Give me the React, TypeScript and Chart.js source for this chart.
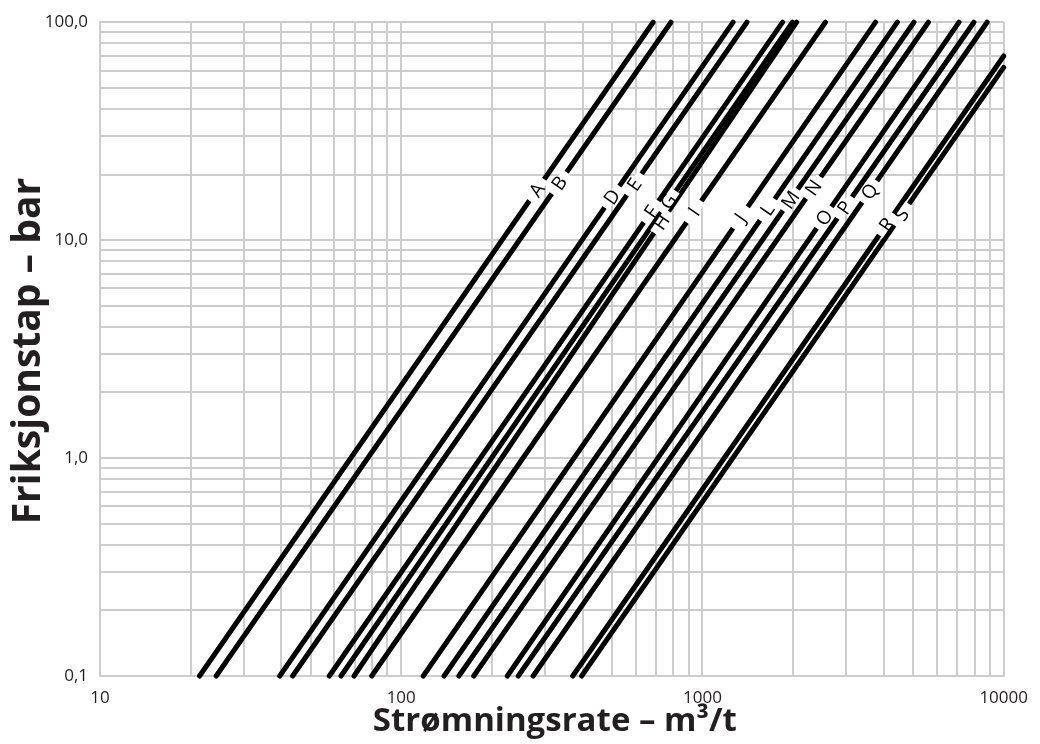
import React, { useEffect, useRef } from "react";
import { Chart, registerables } from "chart.js";

Chart.register(...registerables);

// ---- Data ----
const seriesNames = ["A", "B", "D", "E", "F", "G", "H", "I", "J", "L", "M", "N", "O", "P", "Q", "R", "S"];
// flow (m³/t) where each curve starts at the bottom of the chart
const startFlow = [21.4, 24.3, 39.5, 43.6, 57.7, 63.1, 69.7, 79.8, 118.3, 138.7, 155.4, 174.0, 225.0, 244.6, 274.0, 370.9, 397.1];
const startLoss = [0.1, 0.1, 0.1, 0.1, 0.1, 0.1, 0.1, 0.1, 0.1, 0.1, 0.1, 0.1, 0.1, 0.1, 0.1, 0.1, 0.1];
// flow (m³/t) and loss (bar) where each curve ends
const endFlow = [686, 786, 1264, 1405, 1845, 1990, 2055, 2560, 3756, 4437, 5035, 5624, 7108, 7963, 8812, 10000, 10000];
const endLoss = [100, 100, 100, 100, 100, 100, 100, 100, 100, 100, 100, 100, 100, 100, 100, 70, 62];
// friction loss (bar) at which each curve's letter sits
const labelLoss = [17.0, 18.3, 15.8, 18.0, 13.5, 15.0, 12.1, 13.5, 12.7, 13.8, 15.3, 17.4, 12.7, 14.1, 16.7, 11.8, 13.1];

const xMin = 10;
const xMax = 10000;
const yMin = 0.1;
const yMax = 100;
const xTickValues = [10, 100, 1000, 10000];
const xTickLabels = ["10", "100", "1000", "10000"];
const yTickValues = [0.1, 1, 10, 100];
const yTickLabels = ["0,1", "1,0", "10,0", "100,0"];

const xTitle = "Strømningsrate – m³/t";
const yTitle = "Friksjonstap – bar";

// ---- helpers ----
function logGrid(lo: number, hi: number): number[] {
  const out: number[] = [];
  const e0 = Math.round(Math.log10(lo));
  const e1 = Math.round(Math.log10(hi));
  for (let e = e0; e < e1; e++) {
    const base = Math.pow(10, e);
    for (let m = 1; m < 10; m++) out.push(parseFloat((m * base).toPrecision(6)));
  }
  out.push(hi);
  return out;
}

function labelFor(v: number, values: number[], labels: string[]): string {
  for (let i = 0; i < values.length; i++) {
    if (Math.abs(Math.log10(v) - Math.log10(values[i])) < 1e-6) return labels[i];
  }
  return "";
}

const GRID = "#cdcdcd";
const INK = "#231f20";
const FONT = "'Open Sans', 'Noto Sans', sans-serif";

export default function App() {
  const ref = useRef<HTMLCanvasElement>(null);

  useEffect(() => {
    const canvas = ref.current;
    if (!canvas) return;

    const datasets = seriesNames.map((name, i) => ({
      label: name,
      data: [
        { x: startFlow[i], y: startLoss[i] },
        { x: endFlow[i], y: endLoss[i] },
      ],
      showLine: true,
      borderColor: "#000000",
      backgroundColor: "#000000",
      borderWidth: 5,
      borderCapStyle: "round" as const,
      pointRadius: 0,
      pointHoverRadius: 0,
      tension: 0,
      fill: false,
      clip: false as const,
    }));

    const curveLabels = {
      id: "curveLabels",
      afterDatasetsDraw(chart: any) {
        const ctx = chart.ctx;
        const xs = chart.scales.x;
        const ys = chart.scales.y;
        ctx.save();
        for (let i = 0; i < seriesNames.length; i++) {
          const x0 = xs.getPixelForValue(startFlow[i]);
          const y0 = ys.getPixelForValue(startLoss[i]);
          const x1 = xs.getPixelForValue(endFlow[i]);
          const y1 = ys.getPixelForValue(endLoss[i]);
          const t =
            (Math.log10(labelLoss[i]) - Math.log10(startLoss[i])) /
            (Math.log10(endLoss[i]) - Math.log10(startLoss[i]));
          const px = x0 + t * (x1 - x0);
          const py = y0 + t * (y1 - y0);
          const ang = Math.atan2(y1 - y0, x1 - x0);
          ctx.save();
          ctx.translate(px, py);
          ctx.rotate(ang);
          ctx.fillStyle = "#ffffff";
          ctx.fillRect(-13, -4.5, 26, 9);
          ctx.fillStyle = "#000000";
          ctx.font = `19px ${FONT}`;
          ctx.textAlign = "center";
          ctx.textBaseline = "middle";
          ctx.fillText(seriesNames[i], 0, 1);
          ctx.restore();
        }
        ctx.restore();
      },
    };

    const axisTitles = {
      id: "axisTitles",
      afterDraw(chart: any) {
        const ctx = chart.ctx;
        const area = chart.chartArea;
        ctx.save();
        ctx.fillStyle = INK;
        ctx.textAlign = "center";
        ctx.textBaseline = "alphabetic";
        ctx.font = `bold 33px ${FONT}`;
        ctx.fillText(xTitle, (area.left + area.right) / 2 + 3, 731);
        ctx.translate(40, (area.top + area.bottom) / 2 + 2);
        ctx.rotate(-Math.PI / 2);
        ctx.font = `bold 39px ${FONT}`;
        ctx.fillText(yTitle, 0, 0);
        ctx.restore();
      },
    };

    const xGrid = logGrid(xMin, xMax);
    const yGrid = logGrid(yMin, yMax);

    const chart = new Chart(canvas, {
      type: "scatter",
      data: { datasets: datasets as any },
      options: {
        animation: false,
        responsive: false,
        devicePixelRatio: 1,
        layout: { padding: { top: 22, right: 27, left: 0, bottom: 0 } },
        plugins: {
          legend: { display: false },
          tooltip: { enabled: false },
          title: { display: false },
        },
        events: [],
        scales: {
          x: {
            type: "logarithmic",
            position: "bottom",
            min: xMin,
            max: xMax,
            grid: { color: GRID, lineWidth: 2, drawTicks: false },
            border: { color: GRID, width: 2 },
            ticks: {
              autoSkip: false,
              maxRotation: 0,
              minRotation: 0,
              padding: 12,
              color: INK,
              font: { family: FONT, size: 17 },
              callback: (v: any) => labelFor(Number(v), xTickValues, xTickLabels),
            },
            afterBuildTicks: (axis: any) => {
              axis.ticks = xGrid.map((v) => ({ value: v }));
            },
            afterFit: (axis: any) => {
              axis.height = 68;
            },
          },
          y: {
            type: "logarithmic",
            position: "left",
            min: yMin,
            max: yMax,
            grid: { color: GRID, lineWidth: 2, drawTicks: false },
            border: { color: GRID, width: 2 },
            ticks: {
              autoSkip: false,
              padding: 12,
              color: INK,
              font: { family: FONT, size: 17 },
              callback: (v: any) => labelFor(Number(v), yTickValues, yTickLabels),
            },
            afterBuildTicks: (axis: any) => {
              axis.ticks = yGrid.map((v) => ({ value: v }));
            },
            afterFit: (axis: any) => {
              axis.width = 100;
            },
          },
        },
      } as any,
      plugins: [curveLabels, axisTitles],
    });

    return () => chart.destroy();
  }, []);

  return (
    <canvas
      ref={ref}
      width={1040}
      height={744}
      style={{ position: "fixed", left: 0, top: 0, width: 1040, height: 744, background: "#ffffff" }}
    />
  );
}
